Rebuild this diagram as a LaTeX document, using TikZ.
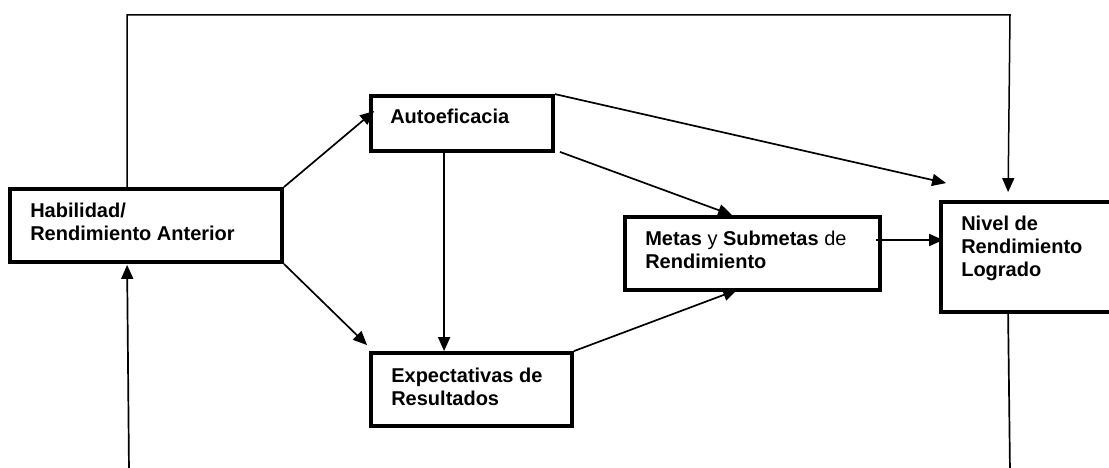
\documentclass[tikz,border=0pt]{standalone}
\usepackage{fontspec}
\setmainfont{Liberation Sans}
\usetikzlibrary{calc,arrows.meta}
\begin{document}
\begin{tikzpicture}[x=1pt,y=-1pt,
  box/.style={draw, line width=3.8pt, inner sep=0pt},
  lbl/.style={anchor=base west, inner sep=0pt, align=left, font=\fontsize{20}{23}\selectfont},
  conn/.style={line width=1.7pt, -{Triangle[length=14pt,width=12pt]}},
  plain/.style={line width=1.7pt}]
\useasboundingbox (0,0) rectangle (1109,468);
\clip (0,0) rectangle (1109,468);
% boxes
\node[box, minimum width=272pt, minimum height=73pt] (hab) at (146,225.5) {};
\node[box, minimum width=182pt, minimum height=55pt] (auto) at (462,123.5) {};
\node[box, minimum width=255pt, minimum height=73pt] (metas) at (752.5,253.5) {};
\node[box, minimum width=201pt, minimum height=73pt] (expect) at (471.5,389.5) {};
\node[box, minimum width=175pt, minimum height=110pt] (nivel) at (1028.5,257) {};
% labels (base = last line)
\node[lbl] (habT) at ($(hab.north west)+(22,53)$) {\bfseries Habilidad/\\\bfseries Rendimiento Anterior};
\node[lbl] (autoT) at ($(auto.north west)+(21,29)$) {\bfseries Autoeficacia};
\node[lbl] (metasT) at ($(metas.north west)+(22,53)$) {\textbf{Metas} y \textbf{Submetas} de\\\bfseries Rendimiento};
\node[lbl] (expectT) at ($(expect.north west)+(22,54)$) {\bfseries Expectativas de\\\bfseries Resultados};
\node[lbl] (nivelT) at ($(nivel.north west)+(22,76)$) {\bfseries Nivel de\\\bfseries Rendimiento\\\bfseries Logrado};
% connectors
\draw[conn] (hab.north east) -- ($(auto.north west)+(5,17)$);
\draw[conn] (hab.south east) -- ($(expect.north west)+(-2,-6)$);
\draw[conn] ($(auto.south west)+(75,0)$) -- ($(expect.north west)+(75,0)$);
\draw[conn] (auto.north east) -- ($(nivel.north west)+(7,-17)$);
\draw[conn] ($(auto.south east)+(5,-1)$) -- ($(metas.north west)+(109,0)$);
\draw[conn] (expect.north east) -- ($(metas.south west)+(114,-2)$);
\draw[conn] ($(metas.east)+(-6,-13.5)$) -- ($(nivel.west)+(4,-17)$);
% feedback loop
\coordinate (topR) at (1010,15);
\coordinate (botL) at (129,472);
\coordinate (botR) at (1010,472);
\draw[conn, line width=1.5pt] ($(hab.north west)+(119,0)$) |- (topR) -- ($(nivel.north west)+(69,-8)$);
\draw[conn] (botL) -- ($(hab.south west)+(119,1)$);
\draw[plain] ($(nivel.south west)+(69,0)$) -- (botR);
\end{tikzpicture}
\end{document}
